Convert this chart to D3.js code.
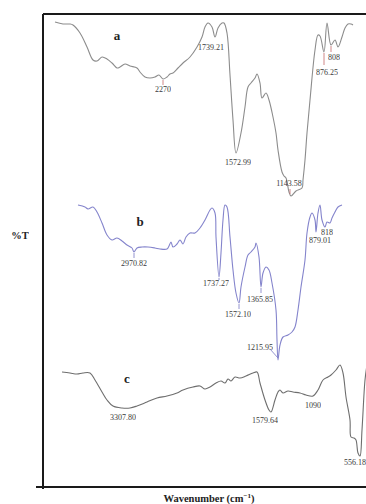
<!DOCTYPE html>
<html>
<head>
<meta charset="utf-8">
<script src="https://cdn.jsdelivr.net/npm/d3@7"></script>
<style>
  html, body { margin: 0; padding: 0; background: #fff; }
  svg { display: block; }
  text { opacity: 0.999; }
</style>
</head>
<body>
<div id="chart"></div>
<script>
// spectra, [relative position, relative %T] (arbitrary units, no tick labels on the chart)
const spectrumA = [
  [12,465],[20,463],[27,463],[30,462],[37,454],[44,440],[50,427],[54,426],[59,430],[64,428],
  [69,424],[74,419],[77,420],[82,423],[87,421],[94,419],[97,415],[102,410],[107,409],[112,410],
  [116,412],[120,408],[124,410],[127,413],[130,414],[135,419],[140,424],[147,430],[154,440],[159,450],
  [162,460],[165,464],[169,460],[172,450],[175,459],[179,464],[181,464],[184,454],[187,412],[190,367],
  [193,334],[198,354],[202,380],[205,400],[208,404],[212,409],[214,413],[217,404],[219,389],[223,394],
  [226,387],[230,370],[233,354],[235,337],[239,315],[241,311],[243,309],[246,295],[248,291],[253,296],
  [259,299],[260,307],[262,327],[264,354],[267,387],[272,437],[275,452],[277,451],[281,435],[284,464],
  [288,442],[292,447],[295,440],[299,450],[302,459],[305,463],[308,463],[310,462]
];
const spectrumB = [
  [35,282],[42,280],[45,278],[50,280],[54,275],[59,264],[64,252],[69,247],[74,249],[79,246],
  [84,242],[89,239],[91,235],[94,239],[99,240],[105,240],[112,239],[117,238],[124,238],[126,241],
  [128,245],[130,240],[134,243],[137,247],[140,243],[143,250],[147,254],[152,254],[157,259],[162,267],
  [167,277],[169,279],[172,274],[173,250],[176,210],[178,234],[180,267],[182,282],[184,280],[187,250],
  [190,217],[193,194],[196,184],[198,200],[202,220],[205,232],[208,235],[212,240],[213,244],[216,230],
  [218,200],[220,214],[223,220],[226,217],[229,204],[233,177],[234,147],[235,127],[237,142],[240,150],
  [245,152],[249,155],[252,160],[255,177],[258,200],[262,227],[264,254],[267,270],[269,274],[272,267],
  [273,255],[275,274],[277,282],[279,267],[282,260],[284,265],[287,264],[289,269],[292,275],[295,280],
  [299,282]
];
const spectrumC = [
  [19,115],[27,114],[34,113],[40,114],[47,114],[52,107],[59,95],[64,87],[70,81],[79,79],
  [87,79],[94,81],[104,85],[114,89],[124,91],[134,94],[140,97],[150,100],[157,101],[162,98],
  [167,100],[173,104],[178,106],[182,104],[185,108],[188,106],[192,110],[197,109],[203,111],[210,114],
  [214,115],[217,104],[222,87],[226,77],[228,75],[232,87],[235,95],[237,97],[240,94],[245,96],
  [250,95],[257,94],[263,92],[270,91],[275,97],[280,107],[285,110],[288,112],[293,117],[297,122],
  [300,114],[303,90],[307,67],[308,50],[311,49],[313,47],[315,34],[317,31],[319,57],[322,107],
  [324,122]
];

// curve letters and where they sit
const seriesNames = ["a", "b", "c"];
const seriesNamePos = [[74,447],[97,261],[84,104]];

// peak labels: text and the point on the curve it marks
const peaksA = [
  {text: "2270", p: [120,408]},
  {text: "1739.21", p: [172,450]},
  {text: "1572.99", p: [193,334]},
  {text: "1143.58", p: [247,292]},
  {text: "876.25", p: [281,435]},
  {text: "808", p: [288,442]}
];
const peaksB = [
  {text: "2970.82", p: [91,235]},
  {text: "1737.27", p: [176,210]},
  {text: "1572.10", p: [196,184]},
  {text: "1365.85", p: [218,200]},
  {text: "1215.95", p: [235,127]},
  {text: "879.01", p: [273,255]},
  {text: "818", p: [282,260]}
];
const peaksC = [
  {text: "3307.80", p: [81,79]},
  {text: "1579.64", p: [228,75]},
  {text: "1090", p: [270,91]},
  {text: "556.18", p: [317,31]}
];

const width = 366, height = 504;
const margin = {top: 14, right: 0, bottom: 17, left: 43};

const svg = d3.select("#chart")
  .append("svg")
  .attr("width", width)
  .attr("height", height);

const x = d3.scaleLinear()
  .domain([0, 323])
  .range([margin.left, width - margin.right]);
const y = d3.scaleLinear()
  .domain([0, 473])
  .range([height - margin.bottom, margin.top]);

// frame: top, left and bottom lines
const frame = svg.append("g")
  .attr("stroke", "#1a1a1a")
  .attr("stroke-width", 2)
  .attr("fill", "none");
frame.append("line")
  .attr("x1", x(0)).attr("x2", x(323))
  .attr("y1", y(473)).attr("y2", y(473));
frame.append("line")
  .attr("x1", x(0)).attr("x2", x(0))
  .attr("y1", y(473)).attr("y2", y(0) + 2);
frame.append("line")
  .attr("x1", x(0) - 7).attr("x2", x(323))
  .attr("y1", y(0)).attr("y2", y(0));

const line = d3.line()
  .x(d => x(d[0]))
  .y(d => y(d[1]))
  .curve(d3.curveCatmullRom.alpha(0.5));

const curves = [
  {data: spectrumA, color: "#8c8c8c", tick: "#c46a6a", peaks: peaksA},
  {data: spectrumB, color: "#8484cc", tick: "#7a7ac4", peaks: peaksB},
  {data: spectrumC, color: "#6e6e6e", tick: "#7a7a7a", peaks: peaksC}
];

// label offsets from the marked point, in pixels: [dx, baseline dy, tick length]
const labelLayout = {
  "2270": [0, 13, 6], "1739.21": [-4, 13, 0], "1572.99": [2, 12, 0], "1143.58": [-1, -9, -6],
  "876.25": [3, 23, 13], "808": [3, 15, 7],
  "2970.82": [0, 14, 6], "1737.27": [-3, 9, 3], "1572.10": [-1, 14, 6], "1365.85": [-1, 15, 6],
  "1215.95": [-18, -10, 0], "879.01": [4, 11, 0], "818": [2, 8, 0],
  "3307.80": [-1, 12, 0], "1579.64": [-6, 11, 0], "1090": [0, 12, 0], "556.18": [-5, 9, 0]
};

curves.forEach(c => {
  svg.append("path")
    .datum(c.data)
    .attr("fill", "none")
    .attr("stroke", c.color)
    .attr("stroke-width", 1.1)
    .attr("stroke-linejoin", "round")
    .attr("d", line);

  // little marker ticks under the peaks
  c.peaks.forEach(pk => {
    const l = labelLayout[pk.text];
    if (l[2] !== 0) {
      svg.append("line")
        .attr("x1", x(pk.p[0])).attr("x2", x(pk.p[0]))
        .attr("y1", y(pk.p[1]) + (l[2] > 0 ? 1 : -1))
        .attr("y2", y(pk.p[1]) + l[2])
        .attr("stroke", c.tick)
        .attr("stroke-width", 0.8);
    }
  });

  svg.append("g")
    .selectAll("text")
    .data(c.peaks)
    .enter()
    .append("text")
    .attr("x", d => x(d.p[0]) + labelLayout[d.text][0])
    .attr("y", d => y(d.p[1]) + labelLayout[d.text][1])
    .attr("text-anchor", "middle")
    .style("font-family", "'Liberation Serif', 'Times New Roman', serif")
    .style("font-size", "8px")
    .style("fill", "#3a3a3a")
    .text(d => d.text);
});

// leader from 1215.95 down to its peak
const lead = peaksB.find(d => d.text === "1215.95");
svg.append("line")
  .attr("x1", x(lead.p[0]) - 8).attr("y1", y(lead.p[1]) - 11)
  .attr("x2", x(lead.p[0])).attr("y2", y(lead.p[1]) - 2)
  .attr("stroke", "#7a7ac4")
  .attr("stroke-width", 0.8);

// curve letters
svg.append("g")
  .selectAll("text")
  .data(seriesNames)
  .enter()
  .append("text")
  .attr("x", (d, i) => x(seriesNamePos[i][0]))
  .attr("y", (d, i) => y(seriesNamePos[i][1]))
  .attr("text-anchor", "middle")
  .style("font-family", "'Liberation Serif', 'Times New Roman', serif")
  .style("font-weight", "bold")
  .style("font-size", "13px")
  .style("fill", "#222")
  .text(d => d);

// y-axis label
svg.append("text")
  .attr("x", 20)
  .attr("y", 239)
  .attr("text-anchor", "middle")
  .style("font-family", "'Liberation Serif', 'Times New Roman', serif")
  .style("font-weight", "bold")
  .style("font-size", "10.5px")
  .style("fill", "#222")
  .text("%T");

// x-axis label
const xl = svg.append("text")
  .attr("x", 209)
  .attr("y", 502)
  .attr("text-anchor", "middle")
  .style("font-family", "'Liberation Serif', 'Times New Roman', serif")
  .style("font-weight", "bold")
  .style("font-size", "10.5px")
  .style("fill", "#222");
xl.append("tspan").text("Wavenumber (cm");
xl.append("tspan").attr("dy", -4).style("font-size", "7px").text("\u22121");
xl.append("tspan").attr("dy", 4).text(")");
</script>
</body>
</html>
